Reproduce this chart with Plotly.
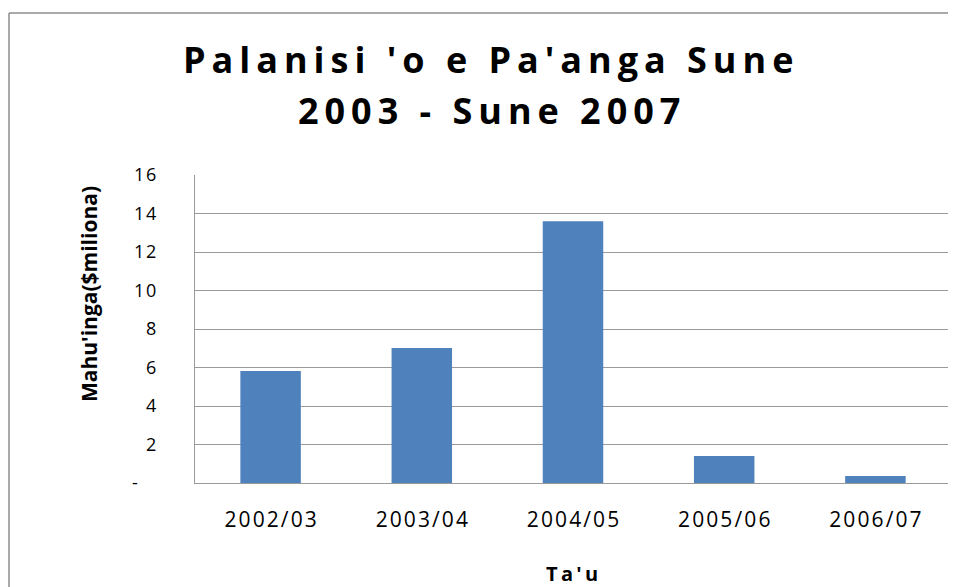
import plotly.graph_objects as go

categories = ["2002/03", "2003/04", "2004/05", "2005/06", "2006/07"]
values = [5.82, 7.01, 13.6, 1.40, 0.36]
ytick_vals = [0, 2, 4, 6, 8, 10, 12, 14, 16]
ytick_text = ["-", "2", "4", "6", "8", "10", "12", "14", "16"]

TS = "\u2009"   # thin space
HS = "\u200a"   # hair space
def spaced(s, sep=TS):
    return sep.join(list(s))

title_l1 = spaced("Palanisi 'o e Pa'anga Sune")
title_l2 = spaced("2003 - Sune 2007")
font = "Open Sans"

# page is offset by 8px (body margin); work in figure coords = screen - 8
OFF = 8
W, H = 956 - OFF, 587 - OFF
L, T = 195 - OFF, 175 - OFF
R = W - (951 - OFF)
B = H - (483 - OFF)

fig = go.Figure(go.Bar(
    x=[spaced(c, HS) for c in categories], y=values,
    marker=dict(color="#4F81BD", line=dict(width=0)),
    width=0.4,
))

pw = W - L - R
ph = H - T - B
def px_x(p):
    return (p - OFF - L) / pw
def px_y(p):
    return (H - B - (p - OFF)) / ph

ylabels = [spaced(t, HS) if t != "-" else "-" + "\u00a0" * 4 for t in ytick_text]

fig.update_layout(
    width=W, height=H,
    margin=dict(l=L, r=R, t=T, b=B),
    paper_bgcolor="white", plot_bgcolor="white",
    showlegend=False,
    font=dict(family=font, color="black"),
)
fig.update_xaxes(
    showgrid=False, showline=True, linecolor="#9a9a9a", linewidth=1,
    ticks="", ticklabelstandoff=18, tickfont=dict(size=21, family=font),
)
fig.update_yaxes(
    range=[0, 16], tickvals=ytick_vals, ticktext=ylabels,
    showgrid=True, gridcolor="#9a9a9a", gridwidth=1,
    showline=True, linecolor="#9a9a9a", linewidth=1,
    ticks="", ticklabelstandoff=34, tickfont=dict(size=18, family=font),
    zeroline=False,
)

annos = [
    dict(text=title_l1, x=px_x(488), y=px_y(59), size=36),
    dict(text=title_l2, x=px_x(489), y=px_y(111), size=36),
    dict(text=spaced("Ta'u", TS), x=px_x(572), y=px_y(573), size=20),
]
for a in annos:
    fig.add_annotation(text=a["text"], x=a["x"], y=a["y"], xref="paper", yref="paper",
                       xanchor="center", yanchor="middle", showarrow=False,
                       font=dict(family=font, size=a["size"], color="black", weight="bold"))
fig.add_annotation(text="Mahu'inga($miliona)", x=px_x(89), y=px_y(294), xref="paper", yref="paper",
                   xanchor="center", yanchor="middle", showarrow=False, textangle=-90,
                   font=dict(family=font, size=21, color="black", weight="bold"))

fig.add_shape(type="line", xref="paper", yref="paper",
              x0=px_x(9), x1=px_x(970), y0=px_y(13), y1=px_y(13),
              line=dict(color="#8c8c8c", width=1.5))
fig.add_shape(type="line", xref="paper", yref="paper",
              x0=px_x(9), x1=px_x(9), y0=px_y(13), y1=px_y(620),
              line=dict(color="#8c8c8c", width=1.5))

fig.write_html("out.html")
